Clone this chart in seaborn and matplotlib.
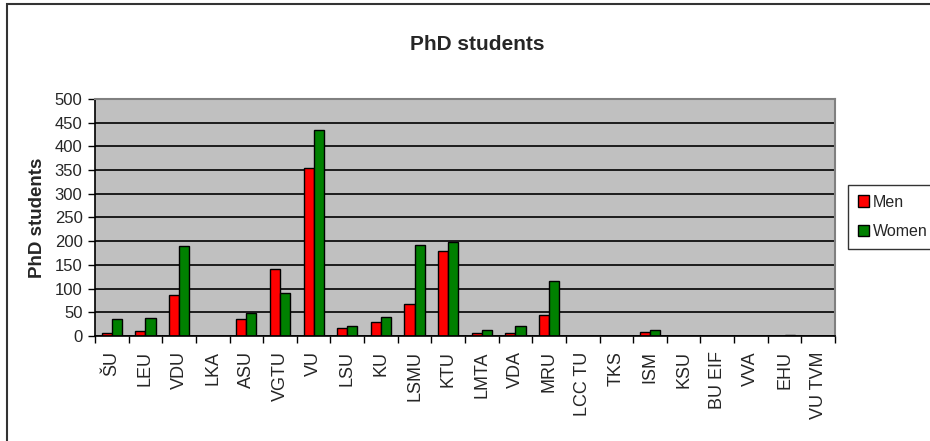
import numpy as np
import pandas as pd

import matplotlib
matplotlib.use("Agg")
import matplotlib.pyplot as plt
import seaborn as sns
from matplotlib.patches import Rectangle

universities = ["ŠU", "LEU", "VDU", "LKA", "ASU", "VGTU", "VU", "LSU", "KU", "LSMU",
                "KTU", "LMTA", "VDA", "MRU", "LCC TU", "TKS", "ISM", "KSU", "BU EIF",
                "VVA", "EHU", "VU TVM"]
men = [7, 10, 87, 0, 36, 142, 355, 16, 29, 67,
       180, 6, 6, 45, 0, 0, 8, 0, 0, 0, 1, 0]
women = [35, 39, 190, 0, 48, 91, 435, 22, 41, 193,
         198, 13, 22, 116, 0, 0, 12, 0, 0, 0, 2, 0]

df = pd.DataFrame({
    "university": universities * 2,
    "students": men + women,
    "sex": ["Men"] * len(universities) + ["Women"] * len(universities),
})

sns.set_style("white")
plt.rcParams["font.family"] = ["Liberation Sans", "DejaVu Sans"]

fig = plt.figure(figsize=(9.3, 4.41), dpi=100)
ax = fig.add_axes([95 / 930, 1 - 336 / 441, 740 / 930, 237 / 441])

sns.barplot(data=df, x="university", y="students", hue="sex",
            palette={"Men": "#ff0000", "Women": "#008000"}, saturation=1,
            width=0.6, edgecolor="black", linewidth=1, ax=ax, legend=True)

ax.set_facecolor("#c0c0c0")
ax.set_ylim(0, 500)
ax.set_xlim(-0.5, len(universities) - 0.5)
ax.set_yticks(np.arange(0, 501, 50))
ax.yaxis.grid(True, color="black", linewidth=1.2)
ax.set_axisbelow(True)
for side in ["top", "right"]:
    ax.spines[side].set_color("#808080")
    ax.spines[side].set_linewidth(1.5)
for side in ["left", "bottom"]:
    ax.spines[side].set_color("black")
    ax.spines[side].set_linewidth(1.2)

ax.set_xticks(range(len(universities)))
ax.set_xticklabels(universities, rotation=90, fontsize=13)
ax.set_xticks(np.arange(-0.5, len(universities), 1), minor=True)
ax.tick_params(axis="x", which="major", length=0, pad=11)
ax.tick_params(axis="x", which="minor", length=5, width=1, color="black", direction="out", bottom=True)
ax.tick_params(axis="y", length=5, width=1, color="black", direction="out", left=True,
               labelsize=12, pad=4)

ax.set_xlabel("")
ax.set_ylabel("PhD students", fontsize=13.5, fontweight="bold", labelpad=6)
fig.text(477 / 930, 1 - 44 / 441, "PhD students", fontsize=15, fontweight="bold",
         ha="center", va="center")

leg = ax.legend(loc="upper left", bbox_to_anchor=(848 / 930, 1 - 185 / 441),
                bbox_transform=fig.transFigure, frameon=True, fontsize=11.5,
                handlelength=0.7, handleheight=0.7, handletextpad=0.25,
                borderpad=0.6, labelspacing=0.9, borderaxespad=0)
leg.get_frame().set_edgecolor("black")
leg.get_frame().set_linewidth(1)
leg.get_frame().set_boxstyle("square", pad=0)

fig.patches.append(Rectangle((7 / 930, -0.1), 1.2, 1 - 4 / 441 + 0.1,
                             transform=fig.transFigure, fill=False,
                             edgecolor="#333333", linewidth=1.5))

fig.savefig("out.png", dpi=100)
plt.close(fig)
